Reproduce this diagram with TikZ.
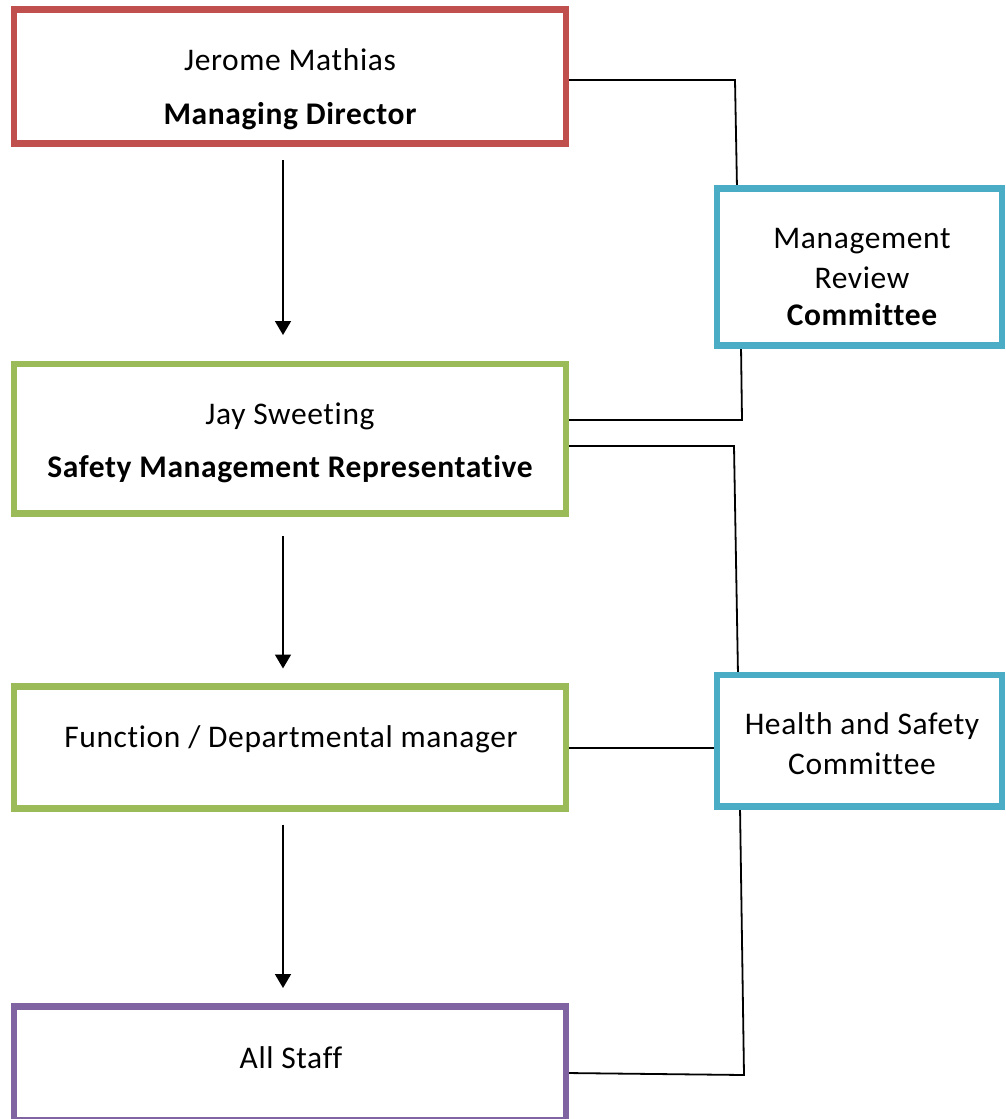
\documentclass[tikz,border=0pt]{standalone}
\usepackage{fontspec}
\setmainfont{Carlito}[Ligatures=NoCommon, LetterSpace=2.0]
\usetikzlibrary{arrows.meta,calc,backgrounds}
\definecolor{mdred}{HTML}{C0504D}
\definecolor{okgreen}{HTML}{9BBB59}
\definecolor{cmblue}{HTML}{4BACC6}
\definecolor{stpurple}{HTML}{8064A2}
\begin{document}
\begin{tikzpicture}[x=1pt,y=-1pt,
  box/.style={draw, line width=6.5pt, fill=white, inner sep=0pt, outer sep=0pt, rectangle},
  txt/.style={anchor=base, inner sep=0pt, font=\fontsize{31.5}{36}\selectfont},
  btxt/.style={txt, font=\fontsize{31.5}{36}\selectfont\bfseries},
  link/.style={draw=black, line width=1.8pt},
  arr/.style={draw=black, line width=1.7pt, -{Triangle[length=14pt,width=16pt]}}]
\useasboundingbox (0,0) rectangle (1005,1119);
% boxes
\node[box, draw=mdred, minimum width=552pt, minimum height=134pt] (md) at (290,76.5) {};
\node[box, draw=okgreen, minimum width=552pt, minimum height=149.5pt] (smr) at (290,438.75) {};
\node[box, draw=okgreen, minimum width=552pt, minimum height=122pt] (fdm) at (290,747.5) {};
\node[box, draw=stpurple, minimum width=552pt, minimum height=113.5pt] (staff) at (290,1063.25) {};
\node[box, draw=cmblue, minimum width=285pt, minimum height=157pt] (mrc) at (859.5,267) {};
\node[box, draw=cmblue, minimum width=285pt, minimum height=131.5pt] (hsc) at (859.5,740.75) {};
% texts
\node[txt] (mdname) at (290,70) {Jerome Mathias};
\node[btxt] (mdrole) at (290,124) {Managing Director};
\node[txt] (smrname) at (290,424) {Jay Sweeting};
\node[btxt] (smrrole) at (290,477) {Safety Management Representative};
\node[txt] (fdmtext) at (291,747) {Function / Departmental manager};
\node[txt] (stafftext) at (291,1068) {All Staff};
\node[txt] (mrc1) at (862,248) {Management};
\node[txt] (mrc2) at (862,288) {Review};
\node[btxt] (mrc3) at (862,325) {Committee};
\node[txt] (hsc1) at (862,734) {Health and Safety};
\node[txt] (hsc2) at (862,774) {Committee};
% bend points
\coordinate (k1) at (735,80);
\coordinate (k2) at (737,188);
\coordinate (k3) at (741,345);
\coordinate (k4) at (742,420);
\coordinate (k5) at (734,446);
\coordinate (k6) at (738,675);
\coordinate (k7) at (740,748);
\coordinate (k8) at (740,806);
\coordinate (k9) at (744,1075);
\coordinate (k10) at (567,1073);
\begin{scope}[on background layer]
\draw[link] (md.east |- k1) -- (k1) -- (k2 |- mrc.north);
\draw[link] (k3 |- mrc.south) -- (k4) -- (smr.east |- k4);
\draw[link] (smr.east |- k5) -- (k5) -- (k6 |- hsc.north);
\draw[link] (fdm.east |- k7) -- (hsc.west |- k7);
\draw[link] (k8 |- hsc.south) -- (k9) -- (k10 -| staff.east);
\end{scope}
% arrows
\draw[arr] ($(md.south)+(-7,16.5)$) -- ($(smr.north)+(-7,-29)$);
\draw[arr] ($(smr.south)+(-7,22.5)$) -- ($(fdm.north)+(-7,-18)$);
\draw[arr] ($(fdm.south)+(-7,16)$) -- ($(staff.north)+(-7,-18.5)$);
\end{tikzpicture}
\end{document}
